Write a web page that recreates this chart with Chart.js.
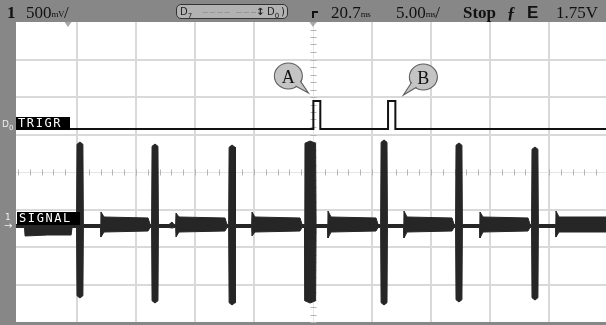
<!DOCTYPE html>
<html><head><meta charset="utf-8">
<script src="https://cdn.jsdelivr.net/npm/chart.js@4.4.1/dist/chart.umd.min.js"></script>
<style>
html,body{margin:0;padding:0;background:#878787;overflow:hidden;}
#wrap{position:relative;width:606px;height:325px;}
canvas{position:absolute;left:0;top:0;}
.t{position:absolute;top:4px;font-family:"Liberation Serif",serif;color:#111;font-size:17px;line-height:17px;white-space:nowrap;}
.u{font-size:9px;display:inline-block;line-height:9px;vertical-align:1px;letter-spacing:-0.5px;}
.lbl{position:absolute;background:#000;color:#fff;font-family:"DejaVu Sans Mono",monospace;font-size:12px;line-height:13px;height:13px;letter-spacing:1.6px;padding-left:2px;box-sizing:border-box;}
.side{position:absolute;color:#eee;font-family:"DejaVu Sans",sans-serif;font-size:9px;line-height:9px;}
.call{position:absolute;font-family:"Liberation Serif",serif;font-size:18px;line-height:18px;color:#111;transform:translate(-50%,-50%);}
#dbox{position:absolute;left:176px;top:4px;width:112px;height:15px;background:#b2b2b2;border:1px solid #333;border-radius:5px;box-sizing:border-box;font-family:"DejaVu Sans",sans-serif;color:#222;}
#dbox span{position:absolute;top:0px;font-size:10px;line-height:13px;}
#trg{position:absolute;left:312px;top:11px;width:6px;height:7px;border-top:2px solid #111;border-left:2px solid #111;box-sizing:border-box;}
</style></head>
<body>
<div id="wrap">
<canvas id="c" width="606" height="325"></canvas>
<div class="t" style="left:7px;font-weight:bold;">1</div>
<div class="t" style="left:26px;">500<span class="u">mV</span>/</div>
<div id="dbox"><span style="left:3px;">D<sub style="font-size:7px">7</sub></span><span style="left:25px;color:#8e8e8e;letter-spacing:1px;">‒‒‒‒ ‒‒‒‒</span><span style="left:79px;font-weight:bold;">↕</span><span style="left:90px;">D<sub style="font-size:7px">0</sub></span><span style="left:104px;">)</span></div>
<div id="trg"></div>
<div class="t" style="left:331px;">20.7<span class="u">ms</span></div>
<div class="t" style="left:396px;">5.00<span class="u">ms</span>/</div>
<div class="t" style="left:463px;font-weight:bold;">Stop</div>
<div class="t" style="left:507px;font-weight:bold;">ƒ</div>
<div class="t" style="left:527px;font-family:'Liberation Sans',sans-serif;font-weight:bold;">E</div>
<div class="t" style="left:556px;">1.75V</div>
<div class="side" style="left:2px;top:120px;">D<sub style="font-size:7px">0</sub></div>
<div class="lbl" style="left:16px;top:117px;width:54px;">TRIGR</div>
<div class="lbl" style="left:17px;top:212px;width:63px;">SIGNAL</div>
<div class="side" style="left:5px;top:213px;">1</div>
<div class="side" style="left:4px;top:221px;font-size:10px;">→</div>
<div class="call" id="cA">A</div>
<div class="call" id="cB">B</div>
</div>
<script>
// ---- data (time in ms relative to trigger, analog in volts about screen centre) ----
const sigT  = [-25.17,-24.45,-24.40,-22.50,-20.50,-20.42,
  -20.04,-20.00,-19.75,-19.50,-19.46,
  -18.00,-17.97,-17.71,-13.98,-13.81,
  -13.68,-13.64,-13.39,-13.14,-13.10,
  -12.20,-11.95,-11.78,-11.64,-11.61,-11.36,-7.46,-7.29,
  -7.15,-7.11,-6.86,-6.61,-6.57,
  -5.20,-5.17,-4.92,-1.10,-0.93,
  -0.72,-0.68,-0.25,0.22,0.26,
  1.24,1.27,1.53,5.34,5.51,
  5.73,5.77,6.02,6.27,6.31,
  7.68,7.71,7.97,11.78,11.95,
  12.08,12.12,12.37,12.62,12.66,
  14.12,14.15,14.41,18.22,18.39,
  18.52,18.56,18.81,19.06,19.10,
  20.56,20.59,20.85,24.83];
const sigHi = [-0.70,-0.70,-0.653,-0.667,-0.667,-0.70,
  -0.70,0.37,0.40,0.37,-0.70,
  -0.70,-0.533,-0.60,-0.613,-0.70,
  -0.70,0.343,0.373,0.343,-0.70,
  -0.70,-0.667,-0.70,-0.70,-0.547,-0.60,-0.613,-0.70,
  -0.70,0.33,0.36,0.33,-0.70,
  -0.70,-0.533,-0.60,-0.613,-0.70,
  -0.70,0.383,0.413,0.383,-0.70,
  -0.70,-0.52,-0.60,-0.613,-0.70,
  -0.70,0.397,0.427,0.397,-0.70,
  -0.70,-0.52,-0.60,-0.613,-0.70,
  -0.70,0.357,0.387,0.357,-0.70,
  -0.70,-0.533,-0.60,-0.613,-0.70,
  -0.70,0.303,0.333,0.303,-0.70,
  -0.70,-0.52,-0.60,-0.60];
const sigLo = [-0.74,-0.74,-0.853,-0.84,-0.84,-0.74,
  -0.74,-1.65,-1.68,-1.65,-0.74,
  -0.74,-0.867,-0.80,-0.787,-0.74,
  -0.74,-1.717,-1.747,-1.717,-0.74,
  -0.74,-0.747,-0.74,-0.74,-0.867,-0.80,-0.787,-0.74,
  -0.74,-1.743,-1.773,-1.743,-0.74,
  -0.74,-0.853,-0.80,-0.787,-0.74,
  -0.74,-1.717,-1.747,-1.717,-0.74,
  -0.74,-0.88,-0.80,-0.787,-0.74,
  -0.74,-1.743,-1.773,-1.743,-0.74,
  -0.74,-0.88,-0.80,-0.787,-0.74,
  -0.74,-1.703,-1.733,-1.703,-0.74,
  -0.74,-0.88,-0.80,-0.787,-0.74,
  -0.74,-1.677,-1.707,-1.677,-0.74,
  -0.74,-0.867,-0.80,-0.80];
const trigT   = [-25.17, 0.03, 0.62, 6.36, 6.98, 24.83];
const trigLvl = [0, 1, 0, 1, 0, 0];
const xGrid = [-20,-15,-10,-5,5,10,15,20];
const yGrid = [-1.5,-1,-0.5,0.5,1,1.5];
const topMarks = [-20.76, 0];
const calloutLabels = ['A','B'];
const calloutEdges = [[0.03,1],[6.98,1]];

const pts = (xs, ys) => xs.map((v,i)=>({x:v, y:ys[i]}));

const scopePlugin = {
  id:'scope',
  beforeDraw(chart){
    const {ctx, chartArea:a} = chart;
    ctx.save(); ctx.fillStyle='#ffffff';
    ctx.fillRect(a.left, a.top, a.right-a.left, a.bottom-a.top); ctx.restore();
  },
  beforeDatasetsDraw(chart){
    const {ctx, chartArea:a, scales:{x,y}} = chart;
    const cx = Math.round(x.getPixelForValue(0))+0.5, cy = Math.round(y.getPixelForValue(0))+0.5;
    ctx.save();
    ctx.strokeStyle='#e6e6e6'; ctx.lineWidth=1;
    ctx.beginPath(); ctx.moveTo(cx,a.top); ctx.lineTo(cx,a.bottom); ctx.moveTo(a.left,cy); ctx.lineTo(a.right,cy); ctx.stroke();
    ctx.strokeStyle='#b4b4b4'; ctx.beginPath();
    for (let k=-20;k<=20;k++){ const py=Math.round(y.getPixelForValue(k/10))+0.5; ctx.moveTo(cx-3,py); ctx.lineTo(cx+3,py); }
    for (let k=-25;k<=25;k++){ const px=Math.round(x.getPixelForValue(k))+0.5; ctx.moveTo(px,cy-3); ctx.lineTo(px,cy+3); }
    ctx.stroke();
    ctx.fillStyle='#a8a8a8';
    topMarks.forEach(m=>{ const px=x.getPixelForValue(m); ctx.beginPath(); ctx.moveTo(px-3.5,a.top); ctx.lineTo(px+3.5,a.top); ctx.lineTo(px,a.top+5); ctx.closePath(); ctx.fill(); });
    ctx.restore();
  },
  afterDatasetsDraw(chart){
    const {ctx, scales:{x,y2}} = chart;
    const offs = [{tip:[-5,-8], c:[-25,-25]}, {tip:[8,-6], c:[28,-24]}];
    ctx.save();
    calloutEdges.forEach((e,i)=>{
      const ex=x.getPixelForValue(e[0]), ey=y2.getPixelForValue(e[1]);
      const tx=ex+offs[i].tip[0], ty=ey+offs[i].tip[1];
      const ccx=ex+offs[i].c[0], ccy=ey+offs[i].c[1];
      const r=14;
      const ang=Math.atan2(ty-ccy, tx-ccx);
      ctx.fillStyle='#c4c4c4'; ctx.strokeStyle='#5e5e5e'; ctx.lineWidth=1.1;
      ctx.beginPath(); ctx.ellipse(ccx,ccy,r,r-1,0,0,Math.PI*2); ctx.fill(); ctx.stroke();
      ctx.beginPath();
      ctx.moveTo(ccx+Math.cos(ang-0.28)*(r-1), ccy+Math.sin(ang-0.28)*(r-2));
      ctx.lineTo(tx,ty);
      ctx.lineTo(ccx+Math.cos(ang+0.28)*(r-1), ccy+Math.sin(ang+0.28)*(r-2));
      ctx.fill(); ctx.stroke();
      const el=document.getElementById(i===0?'cA':'cB');
      el.textContent=calloutLabels[i];
      el.style.left=ccx+'px'; el.style.top=(ccy+1)+'px';
    });
    ctx.restore();
  }
};

new Chart(document.getElementById('c'), {
  type:'line',
  data:{datasets:[
    {label:'TRIGR', data:pts(trigT,trigLvl), yAxisID:'y2', stepped:'before', borderColor:'#111', borderWidth:2, pointRadius:0, fill:false},
    {label:'SIGNAL max', data:pts(sigT,sigHi), yAxisID:'y', borderColor:'#262626', borderWidth:1, pointRadius:0, tension:0, fill:false},
    {label:'SIGNAL min', data:pts(sigT,sigLo), yAxisID:'y', borderColor:'#262626', borderWidth:1, pointRadius:0, tension:0, fill:'-1', backgroundColor:'#262626'}
  ]},
  options:{
    responsive:false, animation:false, events:[],
    layout:{padding:{left:16, top:22, right:0, bottom:3}},
    plugins:{legend:{display:false}, tooltip:{enabled:false}},
    scales:{
      x:{type:'linear', min:-25.17, max:24.83, border:{display:false}, ticks:{display:false},
         grid:{color:'#d9d9d9', lineWidth:2, drawTicks:false},
         afterBuildTicks:s=>{ s.ticks = xGrid.map(v=>({value:v})); }},
      y:{type:'linear', min:-2, max:2, border:{display:false}, ticks:{display:false},
         grid:{color:'#d9d9d9', lineWidth:2, drawTicks:false},
         afterBuildTicks:s=>{ s.ticks = yGrid.map(v=>({value:v})); }},
      y2:{type:'linear', min:-6.893, max:3.821, display:false}
    }
  },
  plugins:[scopePlugin]
});
</script>
</body></html>
